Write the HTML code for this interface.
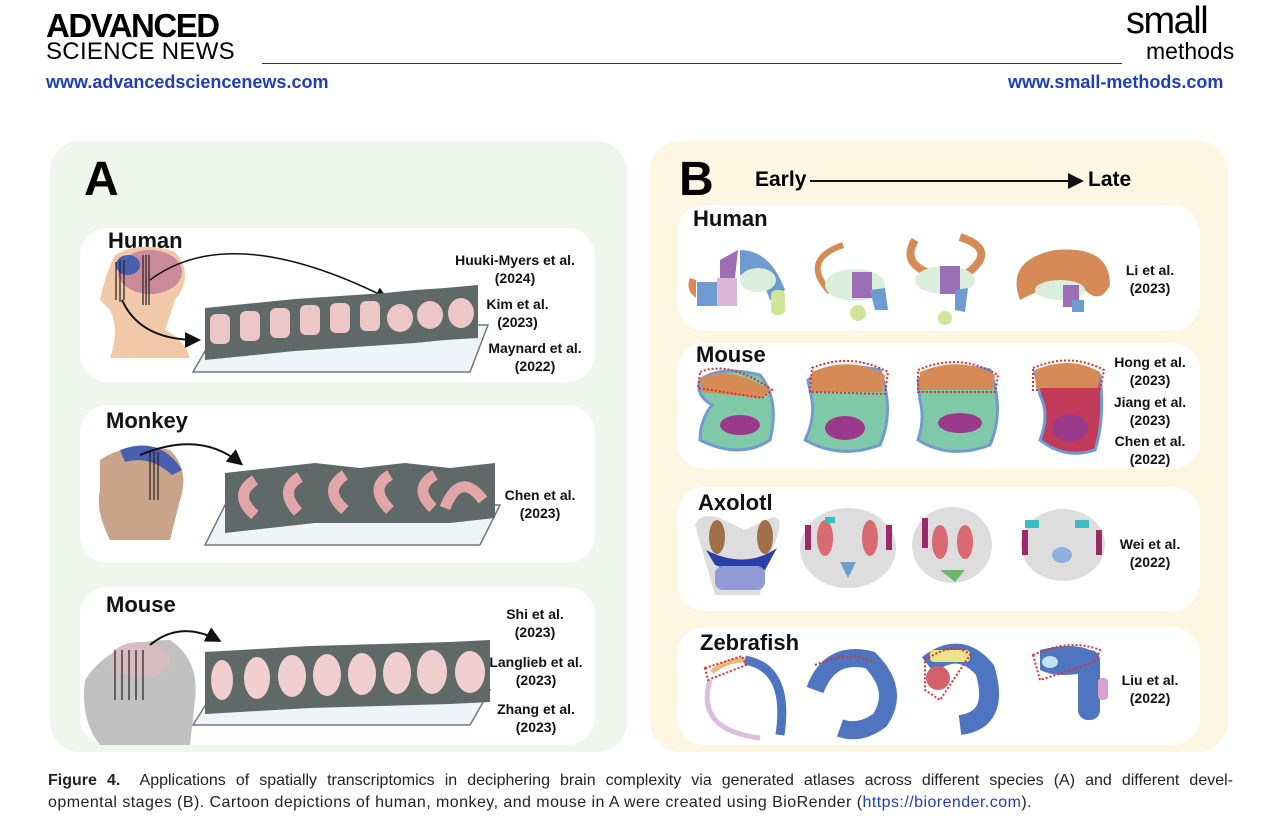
<!DOCTYPE html>
<html><head><meta charset="utf-8"><style>
body{margin:0;width:1280px;height:831px;background:#fff;position:relative;overflow:hidden;font-family:"Liberation Sans",Arial,sans-serif;}
.a{position:absolute;}
.ref{position:absolute;font-weight:bold;font-size:14px;text-align:center;line-height:18px;color:#111;}
.t{position:absolute;font-weight:bold;font-size:22px;color:#111;}
</style></head><body>
<div class="a" style="left:46px;top:10px;font-weight:bold;font-size:33px;letter-spacing:-1.5px;line-height:32px;">ADVANCED</div>
<div class="a" style="left:46px;top:40px;font-size:24px;line-height:24px;letter-spacing:0.3px;">SCIENCE NEWS</div>
<div class="a" style="left:262px;top:63px;width:860px;height:1px;background:#333;"></div>
<div class="a" style="left:46px;top:72px;font-weight:bold;font-size:18px;color:#1b3fbf;">www.advancedsciencenews.com</div>
<div class="a" style="left:1126px;top:2px;font-size:38px;line-height:38px;letter-spacing:-1.5px;">small</div>
<div class="a" style="left:1146px;top:38px;font-size:23px;line-height:26px;">methods</div>
<div class="a" style="left:1008px;top:72px;font-weight:bold;font-size:18px;color:#1b3fbf;">www.small-methods.com</div>

<div class="a" style="left:50px;top:141px;width:577px;height:611px;background:#eff7ec;border-radius:30px;"></div>
<div class="a" style="left:650px;top:141px;width:578px;height:611px;background:#fdf6e3;border-radius:30px;"></div>

<div class="a" style="left:80px;top:228px;width:515px;height:154px;background:#fff;border-radius:28px;"></div>
<div class="a" style="left:80px;top:405px;width:515px;height:158px;background:#fff;border-radius:28px;"></div>
<div class="a" style="left:80px;top:587px;width:515px;height:158px;background:#fff;border-radius:28px;"></div>

<div class="a" style="left:677px;top:205px;width:523px;height:126px;background:#fff;border-radius:28px;"></div>
<div class="a" style="left:677px;top:343px;width:523px;height:126px;background:#fff;border-radius:28px;"></div>
<div class="a" style="left:677px;top:487px;width:523px;height:124px;background:#fff;border-radius:28px;"></div>
<div class="a" style="left:677px;top:627px;width:523px;height:118px;background:#fff;border-radius:28px;"></div>

<div class="a" style="left:84px;top:152px;font-weight:bold;font-size:48px;">A</div>
<div class="a" style="left:679px;top:152px;font-weight:bold;font-size:48px;">B</div>
<div class="a" style="left:755px;top:168px;font-weight:bold;font-size:21px;">Early</div>
<div class="a" style="left:1088px;top:168px;font-weight:bold;font-size:21px;">Late</div>

<div class="t" style="left:108px;top:228px;">Human</div>
<div class="t" style="left:106px;top:408px;">Monkey</div>
<div class="t" style="left:106px;top:592px;">Mouse</div>
<div class="t" style="left:693px;top:206px;">Human</div>
<div class="t" style="left:696px;top:342px;">Mouse</div>
<div class="t" style="left:698px;top:490px;">Axolotl</div>
<div class="t" style="left:700px;top:630px;">Zebrafish</div>

<div class="ref" style="left:440px;top:251px;width:150px;">Huuki-Myers et al.<br>(2024)</div>
<div class="ref" style="left:470px;top:295px;width:95px;">Kim et al.<br>(2023)</div>
<div class="ref" style="left:475px;top:339px;width:120px;">Maynard et al.<br>(2022)</div>
<div class="ref" style="left:490px;top:486px;width:100px;">Chen et al.<br>(2023)</div>
<div class="ref" style="left:485px;top:605px;width:100px;">Shi et al.<br>(2023)</div>
<div class="ref" style="left:480px;top:653px;width:112px;">Langlieb et al.<br>(2023)</div>
<div class="ref" style="left:480px;top:700px;width:112px;">Zhang et al.<br>(2023)</div>
<div class="ref" style="left:1110px;top:261px;width:80px;">Li et al.<br>(2023)</div>
<div class="ref" style="left:1110px;top:353px;width:80px;">Hong et al.<br>(2023)</div>
<div class="ref" style="left:1110px;top:393px;width:80px;">Jiang et al.<br>(2023)</div>
<div class="ref" style="left:1110px;top:432px;width:80px;">Chen et al.<br>(2022)</div>
<div class="ref" style="left:1110px;top:535px;width:80px;">Wei et al.<br>(2022)</div>
<div class="ref" style="left:1110px;top:671px;width:80px;">Liu et al.<br>(2022)</div>

<svg class="a" style="left:0;top:0" width="1280" height="831">
<defs><marker id="ar" markerWidth="8" markerHeight="8" refX="6" refY="4" orient="auto"><path d="M0,0L8,4L0,8z" fill="#111"/></marker></defs>
<line x1="810" y1="181" x2="1080" y2="181" stroke="#111" stroke-width="2" marker-end="url(#ar)"/>
<!-- A human -->
<path d="M115,255 Q140,240 175,252 Q195,275 175,300 L165,330 Q185,340 190,358 L110,358 Q120,330 110,310 L100,300 Q105,275 115,255z" fill="#f1c9a8"/>
<ellipse cx="150" cy="272" rx="32" ry="22" fill="#c98a9a"/>
<ellipse cx="128" cy="265" rx="12" ry="10" fill="#4a5fae"/>
<g stroke="#222" stroke-width="1.2"><line x1="116" y1="262" x2="116" y2="300"/><line x1="120" y1="260" x2="120" y2="302"/><line x1="124" y1="260" x2="124" y2="300"/><line x1="143" y1="255" x2="143" y2="305"/><line x1="146" y1="255" x2="146" y2="305"/><line x1="149" y1="255" x2="149" y2="305"/></g>
<path d="M150,280 Q230,220 385,297" stroke="#111" stroke-width="1.5" fill="none" marker-end="url(#ar)"/>
<path d="M122,300 Q140,340 197,340" stroke="#111" stroke-width="2" fill="none" marker-end="url(#ar)"/>
<polygon points="193,372 470,372 488,325 220,325" fill="#eef4f8" stroke="#707a78" stroke-width="1.5"/>
<g fill="#5f6a68">
<polygon points="205,308 235,305 235,357 205,360"/><polygon points="235,305 265,302 265,354 235,357"/><polygon points="265,302 295,299 295,351 265,354"/><polygon points="295,299 325,297 325,349 295,351"/><polygon points="325,297 355,295 355,347 325,349"/><polygon points="355,295 385,293 385,345 355,347"/><polygon points="385,293 415,290 415,343 385,345"/><polygon points="415,290 445,288 445,340 415,343"/><polygon points="445,288 478,285 478,338 445,340"/></g>
<g fill="#edc6c6"><rect x="210" y="314" width="20" height="30" rx="6"/><rect x="240" y="311" width="20" height="30" rx="6"/><rect x="270" y="308" width="20" height="30" rx="6"/><rect x="300" y="305" width="20" height="30" rx="6"/><rect x="330" y="303" width="20" height="30" rx="6"/><rect x="360" y="301" width="20" height="30" rx="6"/><ellipse cx="400" cy="318" rx="13" ry="14"/><ellipse cx="430" cy="315" rx="13" ry="14"/><ellipse cx="461" cy="313" rx="13" ry="15"/></g>
<!-- monkey -->
<path d="M100,460 Q130,440 170,450 Q190,470 180,500 L170,540 L110,540 Q95,510 100,490z" fill="#c9a38a"/>
<path d="M120,450 Q160,435 182,470 L172,475 Q150,455 125,462z" fill="#4a5fae"/>
<g stroke="#222" stroke-width="1.2"><line x1="150" y1="452" x2="150" y2="500"/><line x1="154" y1="452" x2="154" y2="500"/><line x1="158" y1="452" x2="158" y2="500"/></g>
<path d="M140,455 Q200,430 240,463" stroke="#111" stroke-width="2" fill="none" marker-end="url(#ar)"/>
<polygon points="205,545 480,545 500,505 225,505" fill="#eef4f8" stroke="#707a78" stroke-width="1.5"/>
<g fill="#5f6a68"><polygon points="225,473 270,468 270,528 225,533"/><polygon points="270,468 315,463 315,523 270,528"/><polygon points="315,463 360,468 360,523 315,523"/><polygon points="360,468 405,463 405,523 360,523"/><polygon points="405,463 450,468 450,523 405,523"/><polygon points="450,468 495,463 495,518 450,523"/></g>
<g fill="none" stroke="#e2a6a8" stroke-width="11"><path d="M255,515 Q232,495 255,480"/><path d="M298,512 Q278,490 300,477"/><path d="M345,510 Q322,490 345,475"/><path d="M390,510 Q368,488 390,475"/><path d="M433,508 Q412,488 435,475"/><path d="M445,508 Q460,470 483,500"/></g>
<!-- mouse -->
<path d="M85,680 Q110,640 170,640 Q200,660 195,700 L190,745 L100,745 Q80,720 85,680z" fill="#c0c0c0"/>
<ellipse cx="140" cy="660" rx="30" ry="18" fill="#d6bcc0"/>
<g stroke="#222" stroke-width="1.2"><line x1="115" y1="650" x2="115" y2="700"/><line x1="122" y1="650" x2="122" y2="700"/><line x1="129" y1="650" x2="129" y2="700"/><line x1="136" y1="650" x2="136" y2="700"/><line x1="143" y1="650" x2="143" y2="700"/></g>
<path d="M150,645 Q180,620 218,640" stroke="#111" stroke-width="2" fill="none" marker-end="url(#ar)"/>
<polygon points="193,725 470,725 490,690 215,690" fill="#eef4f8" stroke="#707a78" stroke-width="1.5"/>
<g fill="#5f6a68"><polygon points="205,652 240,650 240,712 205,714"/><polygon points="240,650 275,648 275,710 240,712"/><polygon points="275,648 310,646 310,708 275,710"/><polygon points="310,646 345,645 345,707 310,708"/><polygon points="345,645 380,644 380,706 345,707"/><polygon points="380,644 415,643 415,705 380,706"/><polygon points="415,643 450,642 450,704 415,705"/><polygon points="450,642 490,640 490,702 450,704"/></g>
<g fill="#f1cfcf"><ellipse cx="222" cy="680" rx="11" ry="20"/><ellipse cx="257" cy="678" rx="13" ry="21"/><ellipse cx="292" cy="676" rx="14" ry="21"/><ellipse cx="327" cy="675" rx="14" ry="21"/><ellipse cx="362" cy="674" rx="14" ry="21"/><ellipse cx="397" cy="673" rx="14" ry="21"/><ellipse cx="432" cy="672" rx="15" ry="22"/><ellipse cx="470" cy="672" rx="15" ry="21"/></g>
<!-- B human -->
<g><rect x="697" y="282" width="20" height="24" fill="#6f9bd1"/><rect x="717" y="278" width="20" height="28" fill="#dcb7d8"/><path d="M720,260 L738,250 L735,278 L720,278z" fill="#9b6eb5"/><path d="M740,250 Q770,250 785,290 L770,300 Q760,270 740,275z" fill="#6f9bd1"/><ellipse cx="758" cy="280" rx="18" ry="12" fill="#d9efdc"/><rect x="771" y="290" width="14" height="25" rx="5" fill="#cfe59a"/><path d="M690,278 Q685,290 696,298 L696,280z" fill="#d68a56"/></g>
<path d="M843,245 Q800,260 830,292" stroke="#d68a56" stroke-width="6" fill="none"/>
<ellipse cx="855" cy="285" rx="30" ry="16" fill="#d9efdc"/><rect x="852" y="272" width="20" height="26" fill="#9b6eb5"/><path d="M870,290 L885,288 L888,310 L875,310z" fill="#6f9bd1"/><circle cx="858" cy="313" r="8" fill="#cfe59a"/>
<path d="M915,240 Q900,265 935,275 M960,237 Q1000,250 965,275" stroke="#d68a56" stroke-width="8" fill="none"/>
<ellipse cx="945" cy="280" rx="30" ry="14" fill="#d9efdc"/><rect x="940" y="266" width="20" height="28" fill="#9b6eb5"/><path d="M955,290 L968,288 L965,312 L955,310z" fill="#6f9bd1"/><circle cx="945" cy="318" r="7" fill="#cfe59a"/>
<path d="M1020,300 Q1005,260 1055,250 Q1110,245 1110,285 Q1100,305 1085,290 Q1060,278 1020,300z" fill="#d68a56"/>
<ellipse cx="1060" cy="290" rx="25" ry="10" fill="#d9efdc"/><rect x="1063" y="285" width="16" height="22" fill="#9b6eb5"/><rect x="1072" y="300" width="12" height="12" fill="#6f9bd1"/>
<!-- B mouse -->
<path d="M700,380 Q720,365 760,375 Q780,400 770,440 Q740,460 700,440 Q700,420 712,405 Q695,395 700,380z" fill="#7fc9a9" stroke="#6f9bd1" stroke-width="3"/><path d="M700,378 Q730,365 770,390 L760,398 L702,392z" fill="#d68a56"/><ellipse cx="740" cy="425" rx="20" ry="10" fill="#9b3a8a"/>
<path d="M700,372 Q730,360 772,390 L762,398 L698,388z" fill="none" stroke="#e03030" stroke-width="2" stroke-dasharray="2,2"/>
<path d="M808,380 Q830,360 880,370 Q895,410 880,445 Q840,460 805,440 Q815,420 812,400z" fill="#7fc9a9" stroke="#6f9bd1" stroke-width="3"/><path d="M812,372 Q850,355 885,375 L882,392 L812,392z" fill="#d68a56"/><ellipse cx="845" cy="428" rx="20" ry="12" fill="#9b3a8a"/><path d="M812,368 Q850,352 888,372 L885,394 L810,392z" fill="none" stroke="#e03030" stroke-width="2" stroke-dasharray="2,2"/>
<path d="M918,380 Q940,360 990,370 Q1005,410 990,445 Q950,460 918,440 Q925,420 920,400z" fill="#7fc9a9" stroke="#6f9bd1" stroke-width="3"/><path d="M920,372 Q960,355 995,375 L992,390 L920,390z" fill="#d68a56"/><ellipse cx="960" cy="423" rx="22" ry="10" fill="#9b3a8a"/><path d="M918,370 Q960,352 998,375 L995,392 L918,392z" fill="none" stroke="#e03030" stroke-width="2" stroke-dasharray="2,2"/>
<path d="M1035,372 Q1070,358 1100,375 Q1105,420 1095,450 Q1065,460 1040,440 Q1050,415 1040,395z" fill="#c23a5a" stroke="#6f9bd1" stroke-width="3"/><path d="M1035,370 Q1070,355 1100,372 L1098,388 L1036,388z" fill="#d68a56"/><ellipse cx="1070" cy="428" rx="18" ry="14" fill="#9b3a8a"/><path d="M1033,368 Q1070,352 1104,370 L1100,390 L1033,390z" fill="none" stroke="#e03030" stroke-width="2" stroke-dasharray="2,2"/>
<!-- axolotl -->
<g><path d="M695,525 Q700,512 720,518 L745,530 L770,518 Q790,512 768,560 L760,595 L715,595 L705,560z" fill="#ddd"/><ellipse cx="717" cy="537" rx="8" ry="17" fill="#a0704a"/><ellipse cx="765" cy="537" rx="8" ry="17" fill="#a0704a"/><path d="M706,550 Q745,570 777,548 L765,570 Q740,575 715,565z" fill="#2a3fa8"/><rect x="715" y="566" width="50" height="24" rx="8" fill="#8f9ad6"/></g>
<g><ellipse cx="848" cy="548" rx="48" ry="40" fill="#ddd"/><ellipse cx="825" cy="538" rx="8" ry="18" fill="#d96a72"/><ellipse cx="870" cy="538" rx="8" ry="18" fill="#d96a72"/><rect x="805" y="525" width="6" height="25" fill="#9b2a6a"/><rect x="886" y="525" width="6" height="25" fill="#9b2a6a"/><rect x="825" y="517" width="10" height="6" fill="#3bbcc2"/><path d="M840,562 L856,562 L848,578z" fill="#6f9bd1"/></g>
<g><ellipse cx="952" cy="545" rx="40" ry="38" fill="#ddd"/><ellipse cx="940" cy="542" rx="8" ry="17" fill="#d96a72"/><ellipse cx="965" cy="542" rx="8" ry="17" fill="#d96a72"/><rect x="922" y="518" width="6" height="30" fill="#9b2a6a"/><path d="M940,570 L965,570 L955,582z" fill="#6ab86a"/></g>
<g><ellipse cx="1063" cy="545" rx="42" ry="36" fill="#ddd"/><rect x="1025" y="520" width="14" height="8" fill="#3bbcc2"/><rect x="1075" y="520" width="14" height="8" fill="#3bbcc2"/><rect x="1022" y="530" width="6" height="25" fill="#9b2a6a"/><rect x="1096" y="530" width="6" height="25" fill="#9b2a6a"/><ellipse cx="1062" cy="555" rx="10" ry="8" fill="#8fb0e0"/></g>
<!-- zebrafish -->
<path d="M745,660 Q790,668 780,735" stroke="#4f74c0" stroke-width="9" fill="none"/><path d="M710,680 Q695,730 760,738" stroke="#d9bede" stroke-width="5" fill="none"/><path d="M712,672 Q725,660 745,660" stroke="#e8b878" stroke-width="5" fill="none"/><path d="M705,668 L742,656 L746,665 L708,680z" fill="none" stroke="#e03030" stroke-width="2" stroke-dasharray="2,2"/>
<path d="M815,690 Q830,650 870,660 Q900,690 880,720 Q860,735 840,728" stroke="#4f74c0" stroke-width="18" fill="none"/><path d="M815,665 Q850,650 873,662" stroke="#e03030" stroke-width="2" stroke-dasharray="2,2" fill="none"/>
<path d="M928,665 Q960,640 985,670 Q1000,720 960,725" stroke="#4f74c0" stroke-width="20" fill="none"/><ellipse cx="938" cy="678" rx="12" ry="12" fill="#d4606a"/><rect x="930" y="650" width="40" height="12" rx="4" fill="#f0e28a"/><path d="M925,660 Q955,640 970,655 L940,700 L925,690z" fill="none" stroke="#e03030" stroke-width="2" stroke-dasharray="2,2"/>
<path d="M1040,650 Q1080,640 1098,655 L1095,670 Q1060,680 1040,670z" fill="#4f74c0"/><rect x="1078" y="650" width="22" height="70" rx="10" fill="#4f74c0"/><ellipse cx="1050" cy="662" rx="8" ry="6" fill="#bfe2f5"/><rect x="1098" y="678" width="10" height="22" rx="4" fill="#d9a0cf"/><path d="M1033,655 Q1070,638 1100,650 L1095,662 L1040,680z" fill="none" stroke="#e03030" stroke-width="2" stroke-dasharray="2,2"/>
</svg>

<div class="a" style="left:48px;top:770px;width:1185px;font-size:16px;line-height:22px;color:#222;text-align:justify;text-align-last:justify;white-space:nowrap;"><b>Figure 4.</b>&nbsp; Applications of spatially transcriptomics in deciphering brain complexity via generated atlases across different species (A) and different devel-</div>
<div class="a" style="left:48px;top:792px;width:1185px;font-size:16px;line-height:22px;color:#222;letter-spacing:0.45px;white-space:nowrap;">opmental stages (B). Cartoon depictions of human, monkey, and mouse in A were created using BioRender (<span style="color:#1b3fbf">https://biorender.com</span>).</div>
</body></html>
